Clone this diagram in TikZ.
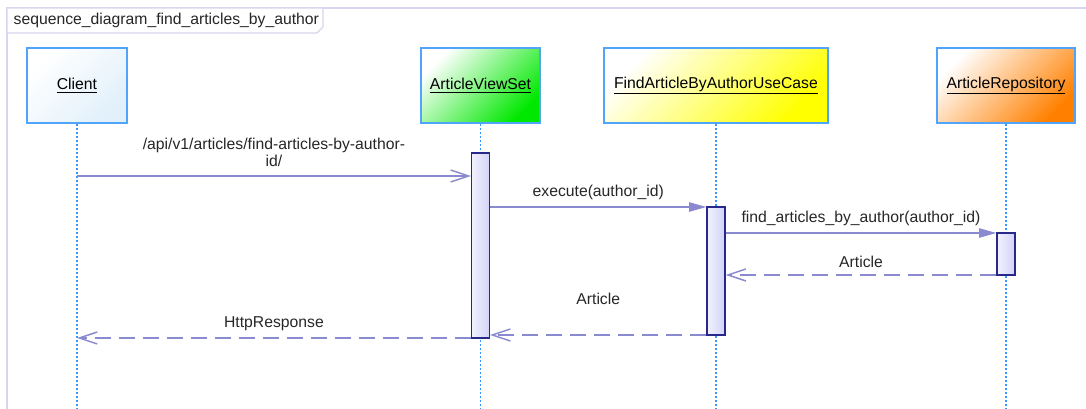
\documentclass[tikz,border=0pt]{standalone}
\usepackage{fontspec}
\setmainfont{Liberation Sans}
\usetikzlibrary{arrows.meta}

\definecolor{msgline}{RGB}{138,138,208}
\definecolor{lifeblue}{RGB}{51,153,255}
\definecolor{boxblue}{RGB}{80,165,250}
\definecolor{framecol}{RGB}{214,214,240}
\definecolor{actborder}{RGB}{40,40,140}
\definecolor{actfill}{RGB}{210,210,248}
\definecolor{clientfill}{RGB}{225,240,251}
\definecolor{viewfill}{RGB}{0,232,0}
\definecolor{usecasefill}{RGB}{255,255,0}
\definecolor{repofill}{RGB}{255,128,0}

\tikzset{
  object/.style={draw=boxblue, line width=1.1pt, minimum height=56.25pt,
    top color=white, bottom color=#1, shading angle=45},
  activation/.style={draw=actborder, line width=0.9pt, minimum width=13.5pt, inner sep=0pt,
    left color=white!70!actfill, right color=actfill},
  lifeline/.style={lifeblue, line width=0.8pt, dash pattern=on 1.5pt off 1.5pt},
  call/.style={msgline, line width=1.1pt, -{Triangle[length=13pt, width=7pt]}},
  async/.style={msgline, line width=1.1pt, -{Straight Barb[length=13.5pt, width=9pt]}},
  reply/.style={msgline, line width=1.1pt, dash pattern=on 12pt off 6pt,
    -{Straight Barb[length=13.5pt, width=9pt]}},
  msglabel/.style={text=black!85}
}

\begin{document}
\begin{tikzpicture}[x=0.75pt, y=-0.75pt, font=\fontsize{11.8}{13}\selectfont]
  \useasboundingbox (0,0) rectangle (1086,409);

  % Draw frame and its title
  \draw[framecol, line width=1.5pt] (1086,8) -- (7,8) -- (7,409);
  \draw[framecol, line width=1pt, fill=white] (7,8) -- (323,8) -- (323,27) -- (317,33) -- (7,33) -- cycle;
  \node[msglabel, anchor=west] (title) at (9,20.5) {sequence\_diagram\_find\_articles\_by\_author};

  % Objects
  \node[object=clientfill, minimum width=75pt] (client) at (77,85.5) {\underline{Client}};
  \node[object=viewfill, minimum width=89.25pt] (viewset) at (480.5,85.5) {\underline{ArticleViewSet}};
  \node[object=usecasefill, minimum width=168pt] (usecase) at (716,85.5) {\underline{FindArticleByAuthorUseCase}};
  \node[object=repofill, minimum width=103.5pt] (repo) at (1006,85.5) {\underline{ArticleRepository}};

  % Lifelines
  \coordinate (bottom) at (0,409);
  \draw[lifeline] (client.south) -- (client.south |- bottom);
  \draw[lifeline] (viewset.south) -- (viewset.south |- bottom);
  \draw[lifeline] (usecase.south) -- (usecase.south |- bottom);
  \draw[lifeline] (repo.south) -- (repo.south |- bottom);

  % Activation bars
  \node[activation, minimum height=138.75pt] (viewsetAct) at (480.5,245.5) {};
  \node[activation, minimum height=96pt] (usecaseAct) at (716,271) {};
  \node[activation, minimum height=31.5pt] (repoAct) at (1006,254) {};

  % Message levels
  \coordinate (m1) at (0,176);
  \coordinate (m2) at (0,207);
  \coordinate (m3) at (0,233);
  \coordinate (m4) at (0,275);
  \coordinate (m5) at (0,335);
  \coordinate (m6) at (0,338);

  % Messages
  \draw[async] (client.south |- m1) -- (viewsetAct.west |- m1)
    node[msglabel, midway, above=3pt, align=center] {/api/v1/articles/find-articles-by-author-\\id/};
  \draw[call] (viewsetAct.east |- m2) -- (usecaseAct.west |- m2)
    node[msglabel, midway, above=1.5pt] {execute(author\_id)};
  \draw[call] (usecaseAct.east |- m3) -- (repoAct.west |- m3)
    node[msglabel, midway, above=1.5pt] {find\_articles\_by\_author(author\_id)};
  \draw[reply] (repoAct.west |- m4) -- (usecaseAct.east |- m4)
    node[msglabel, midway, above=1.5pt] {Article};
  \draw[reply] (usecaseAct.west |- m5) -- (viewsetAct.east |- m5)
    node[msglabel, midway, above=19pt] {Article};
  \draw[reply] (viewsetAct.west |- m6) -- (client.south |- m6)
    node[msglabel, midway, above=1.5pt] {HttpResponse};
\end{tikzpicture}
\end{document}
